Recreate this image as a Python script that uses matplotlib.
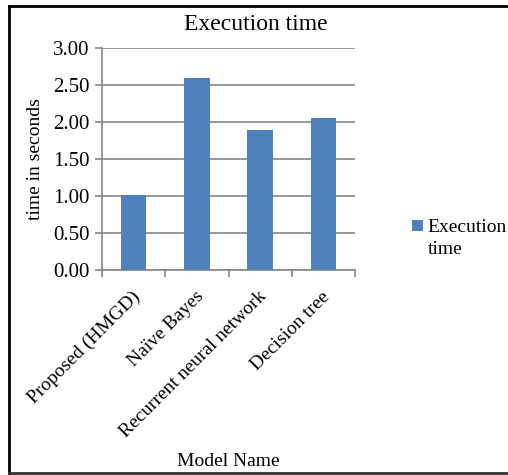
import matplotlib
matplotlib.use("Agg")
import matplotlib.pyplot as plt
import matplotlib.transforms as mtransforms
from matplotlib.lines import Line2D
import numpy as np

plt.rcParams['font.family'] = ['Liberation Serif', 'DejaVu Serif']

models = ['Proposed (HMGD)', 'Naïve Bayes', 'Recurrent neural network', 'Decision tree']
exec_time = [1.02, 2.60, 1.89, 2.05]
yticks = [0.0, 0.5, 1.0, 1.5, 2.0, 2.5, 3.0]
series_name = ['Execution', 'time']   # legend text, wrapped over two lines

W, H = 508, 475
fig = plt.figure(figsize=(W/100, H/100), dpi=100)
ax = fig.add_axes([102/W, 1-270/H, 253/W, 222/H])

x = np.arange(len(models))
ax.bar(x, exec_time, width=0.4, color='#4F81BD', label=series_name[0], zorder=3)

ax.set_xlim(-0.5, len(models)-0.5)
ax.set_ylim(0, 3.0)
ax.set_yticks(yticks)
ax.set_yticklabels(['%.2f' % v for v in yticks], fontsize=15)
ax.grid(axis='y', color='#868686', linewidth=1.2, zorder=0)

# x ticks at category boundaries, labels at centres
ax.set_xticks(np.arange(len(models)+1)-0.5)
ax.set_xticklabels([])
ax.set_xticks(x, minor=True)
ax.set_xticklabels(models, minor=True, rotation=45, ha='right', va='top',
                   rotation_mode='anchor', fontsize=14)
ax.tick_params(axis='x', which='minor', length=0, pad=13)
ax.tick_params(axis='x', which='major', length=5, color='#868686', width=1.2)
ax.tick_params(axis='y', length=5, color='#868686', width=1.2, pad=4)
shift = mtransforms.ScaledTranslation(-2/100, 0, fig.dpi_scale_trans)
for lbl in ax.get_xticklabels(minor=True):
    lbl.set_transform(lbl.get_transform() + shift)

for s in ['top', 'right']:
    ax.spines[s].set_visible(False)
for s in ['left', 'bottom']:
    ax.spines[s].set_color('#868686')
    ax.spines[s].set_linewidth(1.2)

fig.text(256/W, 1-24/H, 'Execution time', ha='center', va='center', fontsize=17)
fig.text(35/W, 1-159/H, 'time in seconds', ha='center', va='center', rotation=90, fontsize=14)
fig.text(228/W, 1-462/H, 'Model Name', ha='center', va='center', fontsize=14)

leg = ax.legend(loc='center left', bbox_to_anchor=(412/W, 1-228/H), bbox_transform=fig.transFigure,
                frameon=False, fontsize=14, handlelength=0.55, handleheight=0.55,
                handletextpad=0.25, borderpad=0, borderaxespad=0)
# second line of the legend entry, aligned under the first
fig.canvas.draw()
tb = leg.get_texts()[0].get_window_extent()
fig.text(tb.x0/W, 1-249/H, series_name[1], ha='left', va='center', fontsize=14)

# outer border (no right edge)
lx, ty, by = 8.5/W, 1-6/H, 1-473/H
fig.add_artist(Line2D([lx, 1.0], [ty, ty], color='black', linewidth=2, transform=fig.transFigure))
fig.add_artist(Line2D([lx, lx], [ty, by], color='black', linewidth=2, transform=fig.transFigure))
fig.add_artist(Line2D([lx, 1.0], [by, by], color='#333333', linewidth=2, transform=fig.transFigure))

fig.savefig('out.png', dpi=100)
